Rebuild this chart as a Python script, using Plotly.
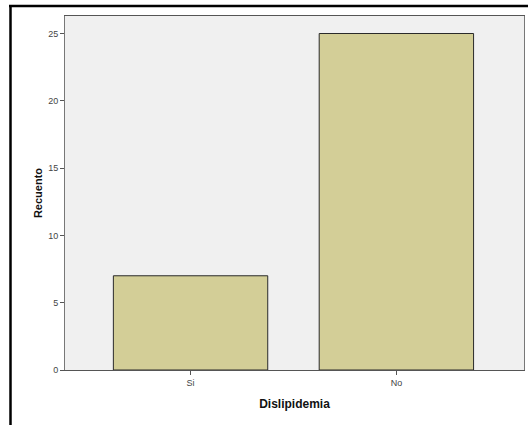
import plotly.graph_objects as go

categories = ["Si", "No"]
counts = [7, 25]
y_ticks = [0, 5, 10, 15, 20, 25]

W, H = 528, 425
L, R, T, B = 65, 4, 16, 55
pw, ph = W - L - R, H - T - B

def px_x(px):
    return (px - L) / pw

def px_y(py):
    return (H - B - py) / ph

fig = go.Figure(go.Bar(
    x=categories, y=counts, width=0.75,
    marker=dict(color="#D3CE97", line=dict(color="#2a2a2a", width=1)),
    hoverinfo="skip",
))

fig.update_layout(
    width=W, height=H,
    margin=dict(l=L, r=R, t=T, b=B),
    paper_bgcolor="white", plot_bgcolor="#F0F0F0",
    showlegend=False,
    font=dict(family="Arial, Liberation Sans, sans-serif", color="#333"),
    xaxis=dict(
        type="category", range=[-0.61, 1.62],
        showgrid=False, zeroline=False,
        showline=True, linecolor="#555", linewidth=1, mirror=True,
        ticks="outside", ticklen=4, tickcolor="#555",
        tickfont=dict(size=9, color="#444"),
        title=dict(text="<b>Dislipidemia</b>", font=dict(size=12, color="#111"), standoff=12),
    ),
    yaxis=dict(
        range=[0, 26.3], tickvals=y_ticks,
        showgrid=False, zeroline=False,
        showline=True, linecolor="#777", linewidth=1, mirror=True,
        ticks="outside", ticklen=4, tickcolor="#555",
        tickfont=dict(size=9, color="#444"),
        title=dict(text="<b>Recuento</b>", font=dict(size=11, color="#111"), standoff=3),
    ),
    shapes=[
        dict(type="line", xref="paper", yref="paper",
             x0=px_x(9), x1=px_x(530), y0=px_y(6), y1=px_y(6),
             line=dict(color="black", width=2.5)),
        dict(type="line", xref="paper", yref="paper",
             x0=px_x(10.5), x1=px_x(10.5), y0=px_y(5), y1=px_y(430),
             line=dict(color="black", width=2.5)),
    ],
)

fig.write_html("out.html", config={"displayModeBar": False, "staticPlot": True},
               post_script="document.body.style.margin='0';")
